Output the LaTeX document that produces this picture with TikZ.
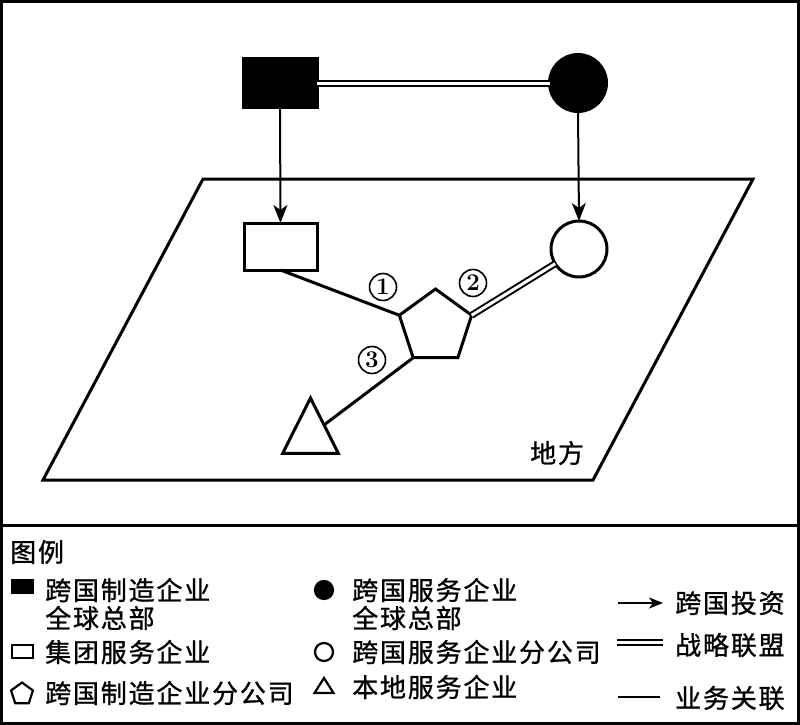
\documentclass[tikz,border=0pt]{standalone}
\usepackage{fontspec}
\newfontfamily\cjk[LetterSpace=7,FakeBold=1]{Noto Sans CJK SC}
\usetikzlibrary{shapes.geometric,arrows.meta}
\begin{document}
\begin{tikzpicture}[x=1pt,y=-1pt,
  solidshape/.style={draw, line width=3pt, inner sep=0pt, outer sep=0pt},
  keyshape/.style={draw, line width=2.2pt, inner sep=0pt, outer sep=0pt},
  invest/.style={-{Stealth[length=18pt,width=14pt,inset=5pt]}, line width=2pt},
  keyinvest/.style={-{Stealth[length=14pt,width=11pt,inset=4pt]}, line width=2pt},
  alliance/.style={double, double distance=3pt, line width=2pt},
  relate/.style={line width=3pt},
  lbl/.style={font=\cjk\fontsize{26}{28}\selectfont, inner sep=0pt, anchor=west, align=left},
  num/.style={circle, draw, line width=1.6pt, minimum size=27pt, inner sep=0pt, font=\bfseries\fontsize{24}{24}\selectfont}
]
\useasboundingbox (0,0) rectangle (800,725);
% frame
\draw[line width=2.6pt] (1.5,1.5) rectangle (798.5,723.5);
\draw[line width=3pt] (1.5,525) -- (798.5,525);
% region
\draw[line width=3pt, line join=miter] (203,179) -- (753,179) -- (593,480) -- (43,480) -- cycle;
\node[lbl] (place) at (530,453) {地方};
% nodes
\node[solidshape, fill=black, minimum width=74pt, minimum height=48pt] (hqM) at (280,83) {};
\node[solidshape, circle, fill=black, minimum size=57pt] (hqS) at (578,83) {};
\node[solidshape, fill=white, minimum width=73pt, minimum height=47pt] (br) at (280.5,246.5) {};
\node[solidshape, circle, fill=white, minimum size=56pt] (sb) at (579,249) {};
\node[solidshape, regular polygon, regular polygon sides=5, minimum size=76pt] (pent) at (435.5,327) {};
\draw[line width=3pt, line join=miter] (310.5,398) -- (338.3,453.3) -- (282.7,453.3) -- cycle;
\coordinate (triE) at (324,425);
% connectors
\draw[invest] (hqM.south) -- (br.north);
\draw[invest] (hqS.south) -- (sb.north);
\draw[alliance] (hqM.east) -- (hqS.west);
\draw[relate] (br.south) -- (pent.corner 2);
\draw[alliance] (pent.corner 5) -- (sb);
\draw[relate] (pent.corner 3) -- (triE);
% numbers
\node[num] (n1) at (383,287) {1};
\node[num] (n2) at (473,283) {2};
\node[num] (n3) at (372,360) {3};
% legend
\node[lbl] (legtitle) at (10,552) {图例};
\node[keyshape, fill=black, minimum width=21pt, minimum height=13pt] (kM) at (22.5,586.5) {};
\node[lbl] (tM) at (45,604) {跨国制造企业\\全球总部};
\node[keyshape, circle, fill=black, minimum size=18pt] (kS) at (324,590) {};
\node[lbl] (tS) at (352,604) {跨国服务企业\\全球总部};
\node[keyshape, minimum width=21pt, minimum height=13pt] (kB) at (22.5,651.5) {};
\node[lbl] (tB) at (45,652) {集团服务企业};
\node[keyshape, circle, minimum size=18pt] (kSB) at (324,652) {};
\node[lbl] (tSB) at (352,652) {跨国服务企业分公司};
\node[keyshape, regular polygon, regular polygon sides=5, minimum size=23pt] (kP) at (22,694) {};
\node[lbl] (tP) at (45,693) {跨国制造企业分公司};
\draw[line width=2.2pt, line join=miter] (324,678) -- (333.5,693) -- (314.5,693) -- cycle;
\node[lbl] (tL) at (352,687) {本地服务企业};
\coordinate (aS) at (618,603);
\coordinate (aE) at (663,603);
\draw[keyinvest] (aS) -- (aE);
\node[lbl] (tI) at (675,603) {跨国投资};
\coordinate (dS) at (617,642.5);
\coordinate (dE) at (663,642.5);
\draw[alliance] (dS) -- (dE);
\node[lbl] (tA) at (675,645) {战略联盟};
\coordinate (rS) at (618,697);
\coordinate (rE) at (660,697);
\draw[line width=2pt] (rS) -- (rE);
\node[lbl] (tR) at (675,698) {业务关联};
\end{tikzpicture}
\end{document}
